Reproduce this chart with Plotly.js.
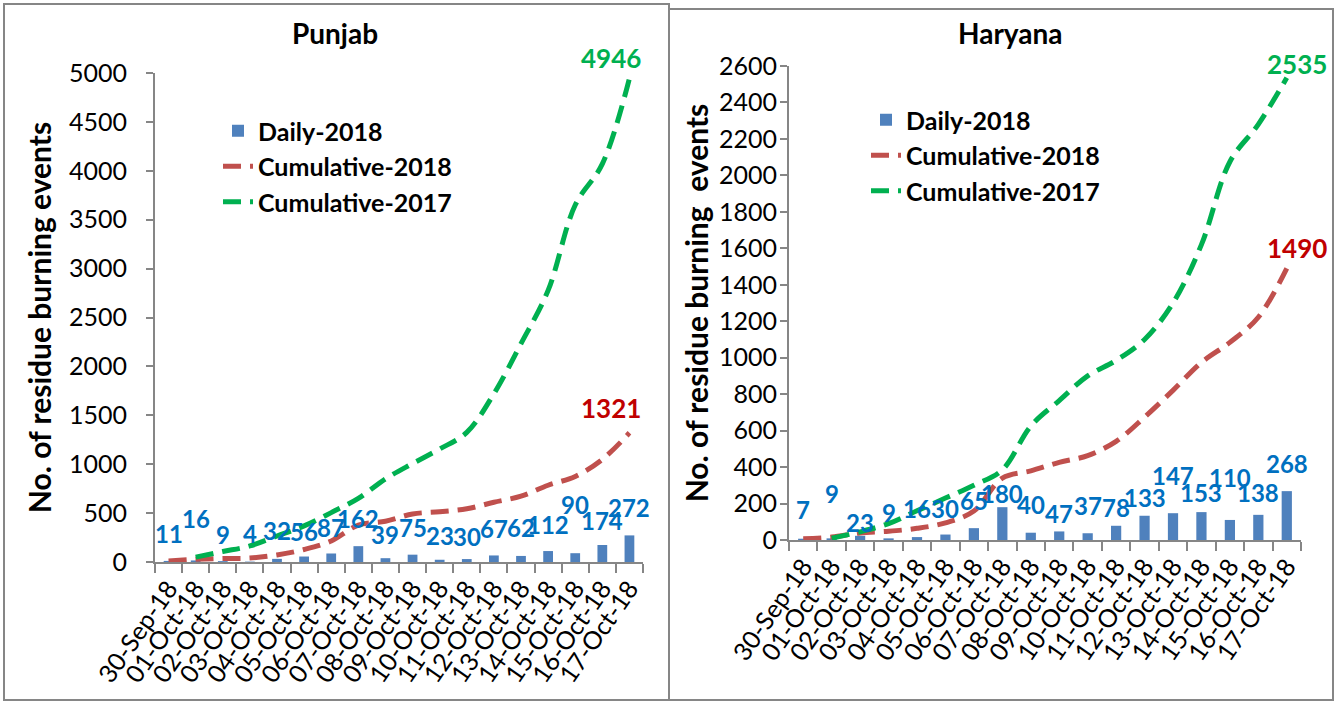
<!DOCTYPE html>
<html>
<head>
<meta charset="utf-8">
<script src="https://cdn.plot.ly/plotly-3.0.1.min.js"></script>
<style>
  html, body { margin: 0; padding: 0; background: #ffffff; }
  #chart { width: 1337px; height: 702px; }
</style>
</head>
<body>
<div id="chart"></div>
<script>
// ---------- data ----------
const dates = ['30-Sep-18','01-Oct-18','02-Oct-18','03-Oct-18','04-Oct-18','05-Oct-18',
               '06-Oct-18','07-Oct-18','08-Oct-18','09-Oct-18','10-Oct-18','11-Oct-18',
               '12-Oct-18','13-Oct-18','14-Oct-18','15-Oct-18','16-Oct-18','17-Oct-18'];

const seriesNames = ['Daily-2018', 'Cumulative-2018', 'Cumulative-2017'];
const panelTitles = ['Punjab', 'Haryana'];

const punjabDaily    = [11, 16, 9, 4, 32, 56, 87, 162, 39, 75, 23, 30, 67, 62, 112, 90, 174, 272];
const punjabCum2018  = [11, 27, 36, 40, 72, 128, 215, 377, 416, 491, 514, 544, 611, 673, 785, 875, 1049, 1321];
const punjabCum2017  = [null, 50, 107, 164, 266, 369, 505, 650, 850, 1007, 1155, 1325, 1720, 2233, 2777, 3650, 4070, 4946];

const haryanaDaily   = [7, 9, 23, 9, 16, 30, 65, 180, 40, 47, 37, 78, 133, 147, 153, 110, 138, 268];
const haryanaCum2018 = [7, 16, 39, 48, 64, 94, 159, 339, 379, 426, 463, 541, 674, 821, 974, 1084, 1222, 1490];
const haryanaCum2017 = [null, 10, 45, 90, 160, 230, 300, 385, 625, 765, 900, 985, 1100, 1300, 1620, 2075, 2280, 2535];

// label placement (pixels above the bar top), as placed in the original chart
const punjabLabelLift  = [27, 42, 27, 28, 28, 25, 26, 28, 24, 27, 24, 23, 27, 28, 27, 49, 24, 28];
const haryanaLabelLift = [29, 45, 13, 26, 29, 26, 28, 14, 28, 18, 28, 18, 18, 38, 20, 42, 22, 28];

// ---------- styles ----------
const W = 1337, H = 702;
const FONT = "Lato, 'Open Sans', 'DejaVu Sans', sans-serif";
const BAR_COLOR = '#4F81BD';
const RED = '#C0504D';
const GREEN = '#00B050';
const LABEL_BLUE = '#0070C0';
const DARK_RED = '#C00000';
const AXIS_GRAY = '#868686';
const DASH = '18px,9px';

const px = v => v / W;
const py = v => 1 - v / H;

function panelTraces(daily, cum18, cum17, xa, ya, legendId) {
  return [
    { type: 'bar', x: dates, y: daily, name: seriesNames[0], xaxis: xa, yaxis: ya,
      marker: { color: BAR_COLOR }, width: 0.36, legend: legendId },
    { type: 'scatter', mode: 'lines', x: dates, y: cum18, name: seriesNames[1], xaxis: xa, yaxis: ya,
      line: { color: RED, width: 5, dash: DASH, shape: 'spline' }, legend: legendId },
    { type: 'scatter', mode: 'lines', x: dates, y: cum17, name: seriesNames[2], xaxis: xa, yaxis: ya,
      line: { color: GREEN, width: 5, dash: DASH, shape: 'spline' }, legend: legendId, connectgaps: false }
  ];
}

const traces = [
  ...panelTraces(punjabDaily, punjabCum2018, punjabCum2017, 'x', 'y', 'legend'),
  ...panelTraces(haryanaDaily, haryanaCum2018, haryanaCum2017, 'x2', 'y2', 'legend2')
];

function labelAnns(daily, lift, xr, yr) {
  return daily.map((v, i) => ({
    x: dates[i], y: v, xref: xr, yref: yr, text: String(v), showarrow: false,
    yanchor: 'middle', xanchor: 'center', yshift: lift[i],
    font: { family: FONT, size: 24, color: LABEL_BLUE, weight: 'bold' }
  }));
}

function endAnn(series, color, xr, yr, ys, xs) {
  const i = series.length - 1;
  return { x: dates[i], y: series[i], xref: xr, yref: yr, text: String(series[i]), showarrow: false,
    yanchor: 'middle', xanchor: 'center', yshift: ys, xshift: xs || 0,
    font: { family: FONT, size: 26, color: color, weight: 'bold' } };
}

const xaxisCommon = {
  type: 'category', range: [-0.5, dates.length - 0.5], showline: true, linecolor: AXIS_GRAY, linewidth: 2,
  ticks: 'outside', tickson: 'boundaries', ticklen: 9, tickcolor: AXIS_GRAY, tickwidth: 2,
  tickmode: 'linear', tick0: 0, dtick: 1,
  tickangle: -55, tickfont: { family: FONT, size: 25, color: '#000' }, showgrid: false, zeroline: false,
  fixedrange: true
};
const yaxisCommon = {
  showline: true, linecolor: AXIS_GRAY, linewidth: 2, ticks: 'outside', ticklen: 7, tickcolor: AXIS_GRAY,
  tickwidth: 2, tickfont: { family: FONT, size: 25, color: '#000' }, showgrid: false, zeroline: false,
  fixedrange: true
};
const yTitleFont = { family: FONT, size: 30, weight: 'bold', color: '#000' };
const legendFont = { family: FONT, size: 25, weight: 'bold', color: '#000' };

const layout = {
  width: W, height: H, margin: { l: 0, r: 0, t: 0, b: 0 },
  paper_bgcolor: '#fff', plot_bgcolor: 'rgba(0,0,0,0)',
  font: { family: FONT, color: '#000' },
  barmode: 'overlay',
  xaxis: Object.assign({}, xaxisCommon, { domain: [px(155), px(643)], anchor: 'y' }),
  yaxis: Object.assign({}, yaxisCommon, { domain: [py(562), py(73)], range: [0, 5000], dtick: 500, anchor: 'x',
    ticklabelstandoff: 14,
    title: { text: 'No. of residue burning events', standoff: 8, font: yTitleFont } }),
  xaxis2: Object.assign({}, xaxisCommon, { domain: [px(789), px(1301)], anchor: 'y2' }),
  yaxis2: Object.assign({}, yaxisCommon, { domain: [py(540), py(66)], range: [0, 2600], dtick: 200, anchor: 'x2',
    ticklabelstandoff: -2,
    title: { text: 'No. of residue burning  events', standoff: 1, font: yTitleFont } }),
  legend: { x: px(218), y: py(108), xanchor: 'left', yanchor: 'top', bgcolor: 'rgba(0,0,0,0)',
    font: legendFont, tracegroupgap: 0, itemwidth: 30 },
  legend2: { x: px(866), y: py(97), xanchor: 'left', yanchor: 'top', bgcolor: 'rgba(0,0,0,0)',
    font: legendFont, tracegroupgap: 0, itemwidth: 30 },
  showlegend: true,
  shapes: [
    { type: 'rect', xref: 'paper', yref: 'paper', x0: px(4), x1: px(669), y0: py(700), y1: py(4),
      line: { color: AXIS_GRAY, width: 2 }, fillcolor: 'rgba(0,0,0,0)', layer: 'below' },
    { type: 'rect', xref: 'paper', yref: 'paper', x0: px(669), x1: px(1333), y0: py(700), y1: py(9),
      line: { color: AXIS_GRAY, width: 2 }, fillcolor: 'rgba(0,0,0,0)', layer: 'below' }
  ],
  annotations: [
    { xref: 'paper', yref: 'paper', x: px(335), y: py(33), text: panelTitles[0], showarrow: false,
      xanchor: 'center', yanchor: 'middle', font: { family: FONT, size: 28, weight: 'bold', color: '#000' } },
    { xref: 'paper', yref: 'paper', x: px(1010), y: py(33), text: panelTitles[1], showarrow: false,
      xanchor: 'center', yanchor: 'middle', font: { family: FONT, size: 28, weight: 'bold', color: '#000' } },
    ...labelAnns(punjabDaily, punjabLabelLift, 'x', 'y'),
    ...labelAnns(haryanaDaily, haryanaLabelLift, 'x2', 'y2'),
    endAnn(punjabCum2017, GREEN, 'x', 'y', 20, -18),
    endAnn(punjabCum2018, DARK_RED, 'x', 'y', 25, -18),
    endAnn(haryanaCum2017, GREEN, 'x2', 'y2', 14, 10),
    endAnn(haryanaCum2018, DARK_RED, 'x2', 'y2', 20, 10)
  ]
};

Plotly.newPlot('chart', traces, layout, { displayModeBar: false, staticPlot: true });
</script>
</body>
</html>
